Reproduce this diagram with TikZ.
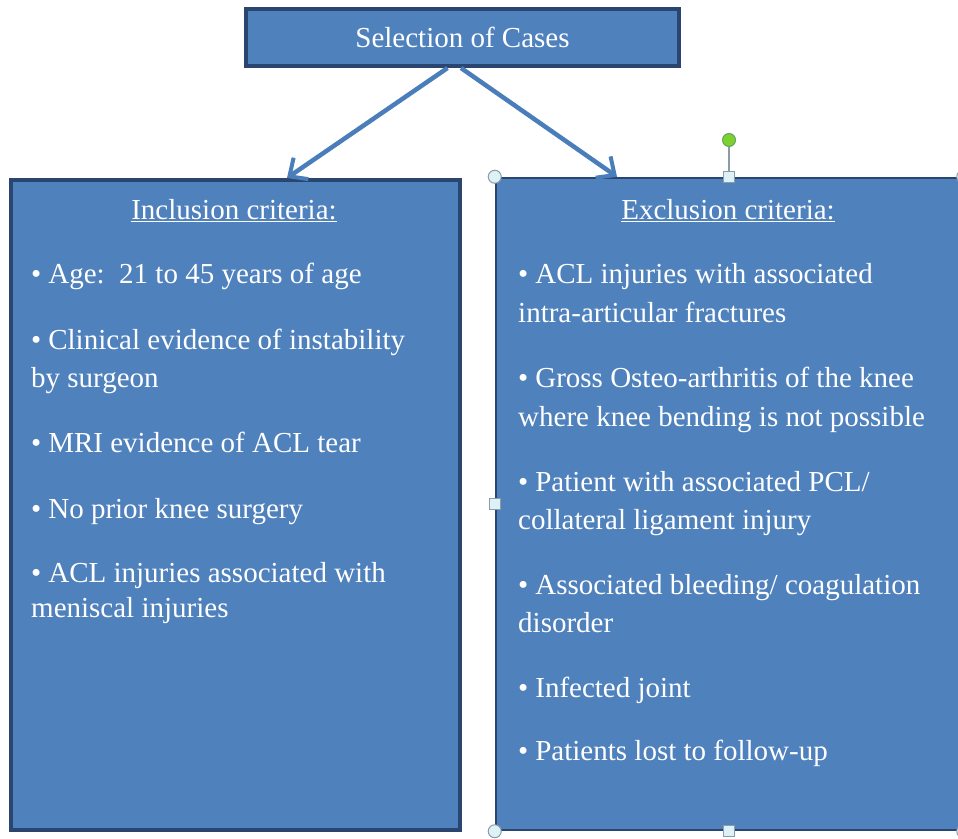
\documentclass[tikz,border=0pt]{standalone}
\usepackage{fontspec}
\setmainfont{Liberation Serif}
\usetikzlibrary{arrows.meta}
\definecolor{boxfill}{HTML}{4F81BD}
\definecolor{boxline}{HTML}{2A4670}
\definecolor{arrowcol}{HTML}{4A7EBB}
\definecolor{handleline}{HTML}{8C9BA8}
\definecolor{handlefill}{HTML}{DDF1F6}
\definecolor{rotgreen}{HTML}{7CD12E}
\newcommand{\bul}{•\hspace{7pt}}
\tikzset{
  x=1pt, y=-1pt,
  bluebox/.style={draw=boxline, fill=boxfill, line width=4pt, inner sep=0pt},
  txt/.style={text=white, font=\fontsize{29}{38}\selectfont, inner sep=0pt, anchor=base west},
  head/.style={text=white, font=\fontsize{29}{38}\selectfont, inner sep=0pt, anchor=base},
  link/.style={draw=arrowcol, line width=4.5pt, -{Straight Barb[length=14pt,width=26pt,line width=4pt]}},
  handlec/.style={draw=handleline, fill=handlefill, line width=1pt},
}
\begin{document}
\begin{tikzpicture}
\clip (0,0) rectangle (958,838);
\fill[white] (0,0) rectangle (958,838);

% boxes
\node[bluebox, minimum width=433pt, minimum height=57pt] (sel) at (462.5,37.5) {};
\node[head] (selt) at (462.5,47) {Selection of Cases};

\node[bluebox, minimum width=449pt, minimum height=650pt] (inc) at (235.5,505) {};
\node[bluebox, line width=2.5pt, minimum width=466pt, minimum height=652pt] (exc) at (729,504) {};

% arrows
\draw[link] ([xshift=-15pt]sel.south) -- ([xshift=51.5pt]inc.north);
\draw[link] ([xshift=-1.5pt]sel.south) -- ([xshift=-112pt]exc.north);

% inclusion text
\node[head] (ih) at (234,219) {\underline{Inclusion criteria:}};
\node[txt] (i1) at (31,283) {\bul Age:\ \ 21 to 45 years of age};
\node[txt] (i2a) at (31,349) {\bul Clinical evidence of instability};
\node[txt] (i2b) at (31,387) {by surgeon};
\node[txt] (i3) at (31,452) {\bul MRI evidence of ACL tear};
\node[txt] (i4) at (31,518) {\bul No prior knee surgery};
\node[txt] (i5a) at (31,582) {\bul ACL injuries associated with};
\node[txt] (i5b) at (31,617) {meniscal injuries};

% exclusion text
\node[head] (eh) at (728,219) {\underline{Exclusion criteria:}};
\node[txt] (e1a) at (518,283) {\bul ACL injuries with associated};
\node[txt] (e1b) at (518,322) {intra-articular fractures};
\node[txt] (e2a) at (518,387) {\bul Gross Osteo-arthritis of the knee};
\node[txt] (e2b) at (518,426) {where knee bending is not possible};
\node[txt] (e3a) at (518,491) {\bul Patient with associated PCL/};
\node[txt] (e3b) at (518,529) {collateral ligament injury};
\node[txt] (e4a) at (518,594) {\bul Associated bleeding/ coagulation};
\node[txt] (e4b) at (518,632) {disorder};
\node[txt] (e5) at (518,697) {\bul Infected joint};
\node[txt] (e6) at (518,760) {\bul Patients lost to follow-up};

% selection handles
\coordinate (rot) at (729,140);
\draw[handleline, line width=1.2pt] (rot) -- (exc.north);
\draw[handlec, draw=green!40!black!60, fill=rotgreen] (rot) circle (6.5pt);
\foreach \p in {exc.north west, exc.south west, exc.north east, exc.south east}
  \draw[handlec] (\p) circle (6.5pt);
\foreach \p in {exc.north, exc.south, exc.west}
  \draw[handlec] ([xshift=-5.5pt,yshift=5.5pt]\p) rectangle ([xshift=5.5pt,yshift=-5.5pt]\p);
\end{tikzpicture}
\end{document}
